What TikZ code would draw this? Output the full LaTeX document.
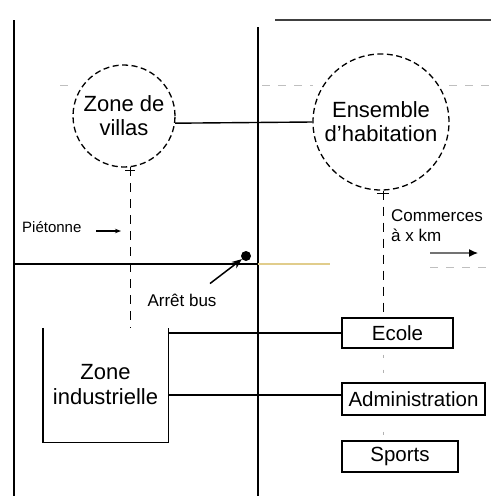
\documentclass[tikz,border=0pt]{standalone}
\usepackage{fontspec}
\setmainfont{Liberation Sans}
\usetikzlibrary{arrows.meta}
\begin{document}
\begin{tikzpicture}[x=1pt,y=-1pt,
  road/.style={line width=1.5pt},
  link/.style={line width=1.4pt},
  zonecirc/.style={circle, draw, line width=1.3pt, dash pattern=on 6pt off 3.5pt, fill=white, align=center, inner sep=0pt, font=\fontsize{22}{24}\selectfont},
  facility/.style={rectangle, draw, line width=1.4pt, fill=white, inner sep=0pt, font=\fontsize{20.5}{24}\selectfont},
  path/.style={line width=1.3pt, dash pattern=on 9pt off 7pt},
  faintpath/.style={black!30, line width=1.2pt, dash pattern=on 3pt off 12pt},
  faint/.style={black!25, line width=1pt, dash pattern=on 8pt off 8pt},
  small/.style={font=\fontsize{17}{20}\selectfont, inner sep=0pt, align=left},
  tcap/.style={line width=1.3pt}
]
\useasboundingbox (0,0) rectangle (491,496);

% faint dashed guide lines
\draw[faint] (60,85) -- (74,85);
\draw[faint] (262,85) -- (313,85);
\draw[faint] (449,85) -- (491,85);
\draw[faint] (430,267) -- (491,267);

% roads
\coordinate (rl1) at (14,20);
\coordinate (rl2) at (14,496);
\coordinate (rm1) at (258,27);
\coordinate (rm2) at (258,496);
\coordinate (rt1) at (275,20);
\coordinate (rt2) at (491,20);
\coordinate (rh1) at (14,264);
\coordinate (rh2) at (258,264);
\coordinate (rh3) at (330,264);
\draw[road] (rl1) -- (rl2);
\draw[road] (rm1) -- (rm2);
\draw[road, black!75] (rt1) -- (rt2);
\draw[road] (rh1) -- (rh2);
\draw[road, color={rgb,255:red,225;green,205;blue,140}] (rh2) -- (rh3);

% zones
\node[zonecirc, minimum size=102pt] (v) at (124,116) {Zone de\\villas};
\node[zonecirc, minimum size=136pt] (e) at (381,122) {Ensemble\\d'habitation};
\draw[link] (v.-8) -- (e.west);

% zone industrielle
\node[minimum width=125pt, minimum height=114pt, inner sep=0pt, align=center,
      font=\fontsize{22}{25}\selectfont] (zi) at (105.5,385) {Zone\\industrielle};
\draw[link] (zi.north west) -- (zi.south west) -- (zi.south east) -- (zi.north east);

% facilities
\node[facility, minimum width=111pt, minimum height=30pt] (ec) at (397.5,333) {Ecole};
\node[facility, minimum width=143pt, minimum height=32pt] (ad) at (413.5,399) {Administration};
\node[facility, minimum width=116pt, minimum height=31pt] (sp) at (400,456.5) {Sports};
\draw[link] (zi.east |- ec.west) -- (ec.west);
\draw[link] ([yshift=4pt]zi.east |- ad.west) -- ([yshift=4pt]ad.west);

% pedestrian paths
\draw[path] (v.-83) -- (v.-83 |- zi.north);
\draw[tcap] ([xshift=-5pt,yshift=-3pt]v.-83) -- ([xshift=5pt,yshift=-3pt]v.-83);
\draw[path] (e.-88) -- (e.-88 |- ec.north);
\draw[tcap] ([xshift=-6pt,yshift=-3pt]e.-88) -- ([xshift=6pt,yshift=-3pt]e.-88);
\draw[faintpath] ([yshift=-6pt]e.-88 |- ec.south) -- (e.-88 |- ad.north);
\draw[faintpath] ([yshift=-16pt]e.-88 |- ad.south) -- (e.-88 |- sp.north);

% labels
\node[small, font=\fontsize{15}{18}\selectfont, anchor=west] (pi) at (22,227) {Piétonne};
\coordinate (piend) at (121,231);
\draw[line width=1.2pt, -{Stealth[length=6pt]}] (96,231) -- (piend);

\node[circle, fill=black, minimum size=10pt, inner sep=0pt] (bus) at (246,256) {};
\node[small] (ab) at (182,300) {Arrêt bus};
\draw[line width=1.5pt, -{Stealth[length=10pt,width=8pt]}] ([xshift=28pt,yshift=10pt]ab.north) -- (bus);

\node[small, anchor=north west] (co) at (391,209) {Commerces\\à x km};
\coordinate (c1) at (430,253);
\coordinate (c2) at (478,253);
\draw[line width=1.2pt, black!55, -{Latex[length=9pt,width=8pt,black]}] (c1) -- (c2);
\end{tikzpicture}
\end{document}
